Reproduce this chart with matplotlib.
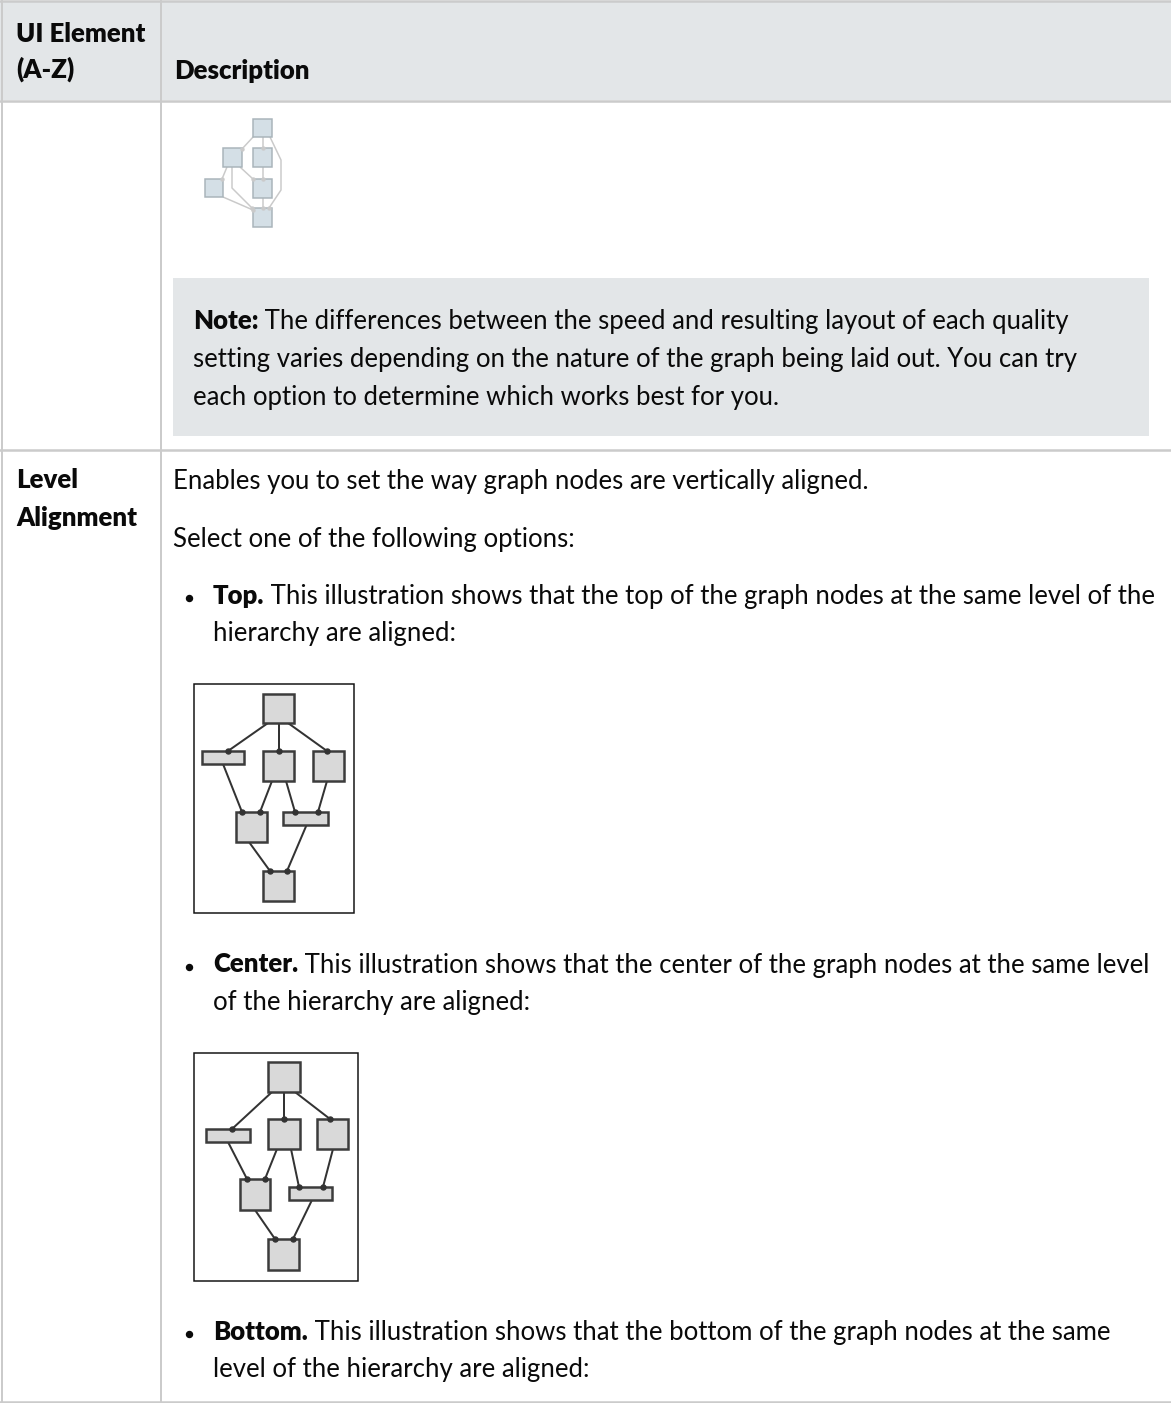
import matplotlib
matplotlib.use("Agg")
import matplotlib.pyplot as plt
from matplotlib.patches import Rectangle

plt.rcParams['font.family'] = ['Lato', 'DejaVu Sans']

# ======================================================
# Content
# ======================================================

header_left = ["UI Element", "(A-Z)"]
header_right = "Description"

note_bold = "Note:"
note_lines = [" The differences between the speed and resulting layout of each quality",
              "setting varies depending on the nature of the graph being laid out. You can try",
              "each option to determine which works best for you."]

row_name = ["Level", "Alignment"]
intro_lines = ["Enables you to set the way graph nodes are vertically aligned.",
               "Select one of the following options:"]

bullets = [("Top.", [" This illustration shows that the top of the graph nodes at the same level of the",
                     "hierarchy are aligned:"]),
           ("Center.", [" This illustration shows that the center of the graph nodes at the same level",
                        "of the hierarchy are aligned:"]),
           ("Bottom.", [" This illustration shows that the bottom of the graph nodes at the same",
                        "level of the hierarchy are aligned:"])]

# small icon in first row: name -> (x, y, w, h)
icon_nodes = {"A": (253, 119, 19, 18), "B": (223, 148, 19, 19), "C": (253, 148, 19, 19),
              "D": (205, 179, 18, 18), "E": (253, 179, 19, 19), "F": (253, 208, 19, 19)}
icon_edges = [[(254, 136), (242, 149)],
              [(263, 137), (263, 148)],
              [(270, 137), (281, 160), (281, 190), (269, 208)],
              [(227, 167), (222, 179)],
              [(240, 167), (253, 179)],
              [(232, 167), (232, 188), (252, 208)],
              [(263, 167), (263, 179)],
              [(223, 197), (253, 210)],
              [(263, 197), (263, 208)]]

# "Top" illustration
top_frame = (194, 684, 160, 229)
top_nodes = [(263, 694, 31, 29), (202, 751, 42, 13), (263, 751, 31, 30), (313, 751, 31, 30),
             (236, 812, 31, 30), (283, 812, 45, 12.5), (263, 871, 31, 30)]
top_edges = [[(268, 723), (228, 751)], [(279, 723), (279, 751)], [(288, 723), (327, 751)],
             [(223, 764), (242, 812)], [(272, 781), (260, 812)], [(286, 781), (295, 812)],
             [(327, 781), (318, 812)], [(249, 842), (270, 871)], [(307, 824), (287, 871)]]

# "Center" illustration
center_frame = (194, 1053, 164, 228)
center_nodes = [(268, 1062, 32, 30), (206, 1129, 44, 12.5), (268, 1119, 32, 30), (317, 1119, 31, 30),
                (240, 1179, 30, 31), (289, 1187, 43, 13), (268, 1239, 31, 31)]
center_edges = [[(272, 1092), (232, 1129)], [(284, 1092), (284, 1119)], [(295, 1092), (330, 1119)],
                [(228, 1142), (247, 1179)], [(277, 1149), (265, 1179)], [(291, 1149), (299, 1187)],
                [(333, 1149), (323, 1187)], [(255, 1210), (275, 1239)], [(312, 1200), (293, 1239)]]

# ======================================================
# Drawing helpers
# ======================================================

W, H = 1171, 1403
FS = 18.5
BOLD = "heavy"
GRID = "#cbcbcb"
PANEL = "#e3e6e8"

fig = plt.figure(figsize=(W / 100, H / 100), dpi=100)
ax = fig.add_axes([0, 0, 1, 1])
ax.set_xlim(0, W)
ax.set_ylim(H, 0)
ax.axis("off")
renderer = fig.canvas.get_renderer()


def px(v):
    return v * 72 / 100


def rich(x, y, bold, rest):
    t = ax.text(x, y, bold, fontsize=FS, fontweight=BOLD, va="baseline", color="#0a0a0a")
    w = t.get_window_extent(renderer).width
    ax.text(x + w, y, rest, fontsize=FS, va="baseline", color="#0a0a0a")


def plain(x, y, s, bold=False):
    ax.text(x, y, s, fontsize=FS, fontweight=BOLD if bold else "normal",
            va="baseline", color="#0a0a0a")


def graph(nodes, edges, fill, edge_col, line_col, lw, nlw, dot):
    for pts in edges:
        xs = [p[0] for p in pts]
        ys = [p[1] for p in pts]
        ax.plot(xs, ys, color=line_col, lw=px(lw), solid_capstyle="butt", zorder=3)
        ax.plot(xs[-1], ys[-1], "o", ms=px(dot), color=line_col, zorder=5)
    for (x, y, w, h) in nodes:
        ax.add_patch(Rectangle((x, y), w, h, facecolor=fill, edgecolor=edge_col,
                               lw=px(nlw), zorder=4))


# ======================================================
# Table frame
# ======================================================

ax.add_patch(Rectangle((0, 2), W, 98, facecolor=PANEL, edgecolor="none", zorder=0))
ax.add_patch(Rectangle((173, 278), 976, 158, facecolor=PANEL, edgecolor="none", zorder=0))

ax.plot([0, W], [1, 1], color=GRID, lw=px(2.5))
ax.plot([0, W], [101, 101], color=GRID, lw=px(2.5))
ax.plot([0, W], [449.5, 449.5], color=GRID, lw=px(2.5))
ax.plot([0, W], [1402, 1402], color=GRID, lw=px(2.5))
ax.plot([1.5, 1.5], [0, H], color=GRID, lw=px(2))
ax.plot([160.5, 160.5], [0, H], color=GRID, lw=px(2))

# ======================================================
# Text
# ======================================================

plain(16, 42, header_left[0], bold=True)
plain(16, 78, header_left[1], bold=True)
plain(174, 79, header_right, bold=True)

rich(193, 329, note_bold, note_lines[0])
plain(193, 367, note_lines[1])
plain(193, 405, note_lines[2])

plain(16, 488, row_name[0], bold=True)
plain(16, 526, row_name[1], bold=True)
plain(173, 489, intro_lines[0])
plain(173, 547, intro_lines[1])

bullet_y = [604, 972.5, 1340]
for (b, lines), y in zip(bullets, bullet_y):
    ax.plot(189, y - 6, "o", ms=px(6), color="#0a0a0a")
    rich(213, y, b, lines[0])
    plain(213, y + 37.5, lines[1])

# ======================================================
# Illustrations
# ======================================================

graph(icon_nodes.values(), icon_edges, "#d4dfe6", "#a9b4ba", "#cacaca", 1.5, 1.5, 3)

for frame, nodes, edges in [(top_frame, top_nodes, top_edges),
                            (center_frame, center_nodes, center_edges)]:
    x, y, w, h = frame
    ax.add_patch(Rectangle((x, y), w, h, facecolor="white", edgecolor="#111111",
                           lw=px(1.5), zorder=2))
    graph(nodes, edges, "#d9d9d9", "#3c3c3c", "#333333", 2, 2.5, 5)

fig.savefig("out.png", dpi=100, facecolor="white")
